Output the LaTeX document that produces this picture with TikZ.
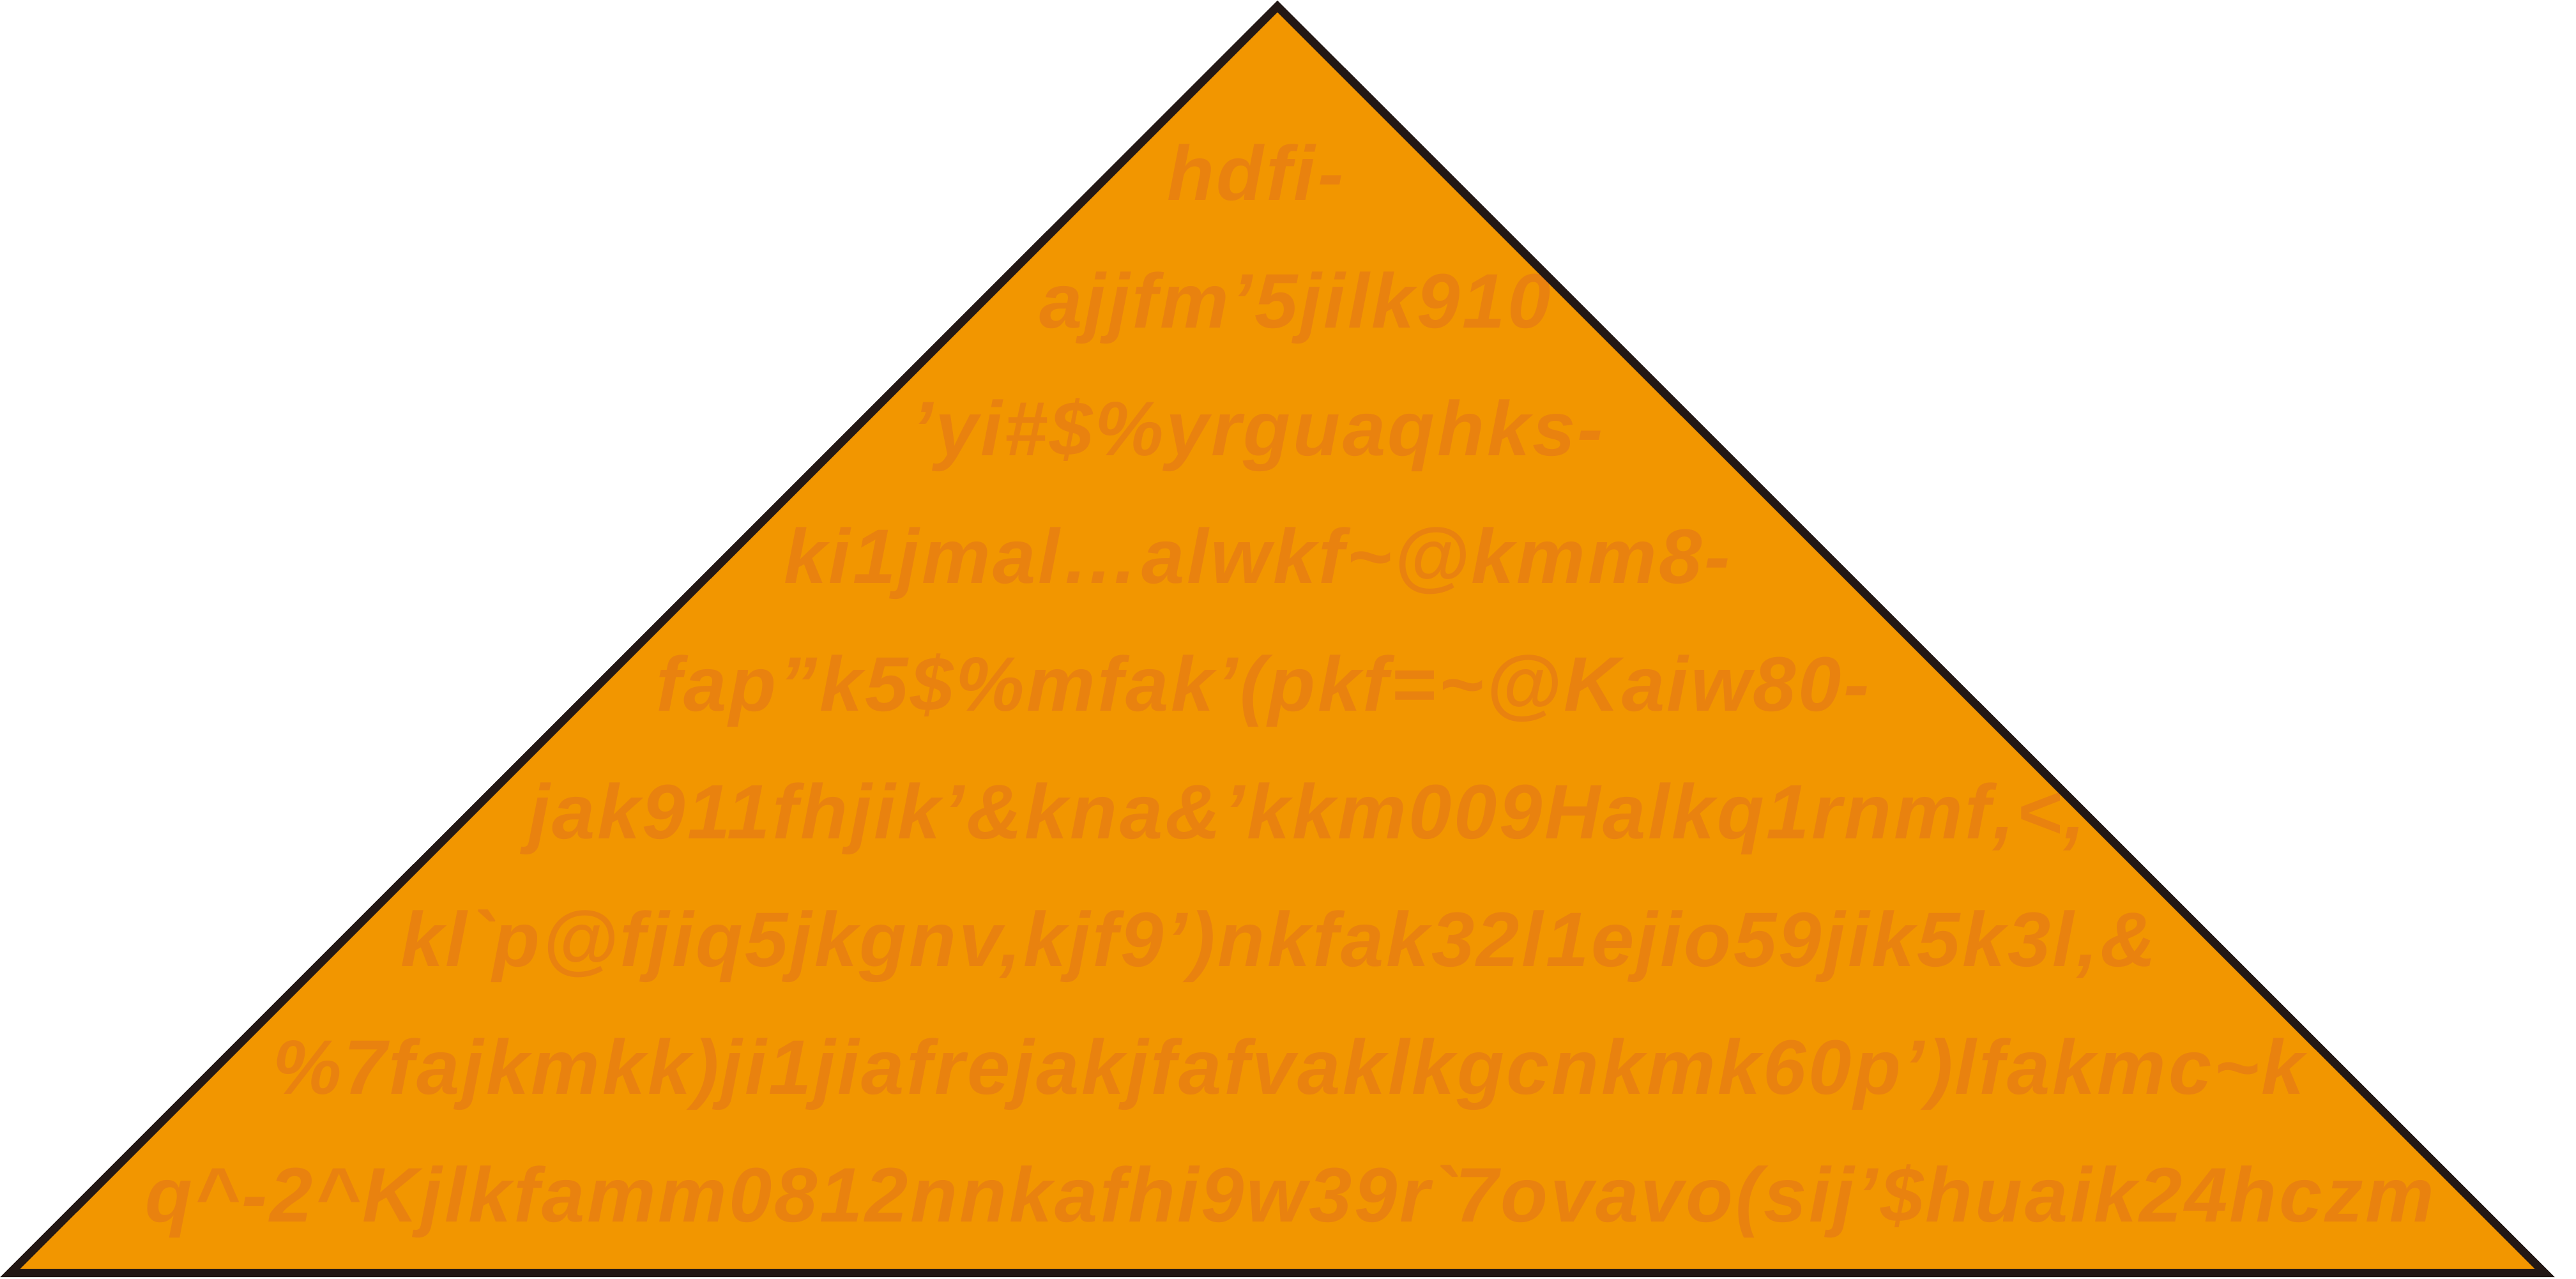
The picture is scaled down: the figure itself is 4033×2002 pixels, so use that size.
\documentclass[tikz,border=0pt]{standalone}
\usepackage{fontspec}
\newfontfamily\pyrfont{Liberation Sans}[Ligatures=TeXOff,LetterSpace=3]
\definecolor{pyrfill}{RGB}{242,150,0}
\definecolor{pyrline}{RGB}{35,24,21}
\definecolor{pyrtext}{RGB}{215,85,50}
\tikzset{
  pyrline/.style={draw=pyrline,line width=3.25pt,line join=miter,fill=pyrfill},
  pyrlabel/.style={anchor=base west,inner sep=0pt,outer sep=0pt,text=pyrtext,text opacity=0.3,
    font=\pyrfont\bfseries\itshape\fontsize{30.25pt}{50pt}\selectfont}
}
\begin{document}
\begin{tikzpicture}[x=0.25pt,y=-0.25pt]
\useasboundingbox (0,0) rectangle (4033,2002);
\coordinate (bl) at (16,1993.5);
\coordinate (br) at (3984,1993.5);
\coordinate (ap) at (2000,10);
\fill[pyrfill] (bl) -- (br) -- (ap) -- cycle;
\node[pyrlabel] (l1) at (1827,313) {hdfi-};
\node[pyrlabel] (l2) at (1627,513) {ajjfm’5jilk910};
\node[pyrlabel] (l3) at (1427,713) {’yi\#\$\%yrguaqhks-};
\node[pyrlabel] (l4) at (1227,913) {ki1jmal…alwkf\textasciitilde @kmm8-};
\node[pyrlabel] (l5) at (1027,1113) {fap”k5\$\%mfak’(pkf=\textasciitilde @Kaiw80-};
\node[pyrlabel] (l6) at (827,1313) {jak911fhjik’\&kna\&’kkm009Halkq1rnmf,<,};
\node[pyrlabel] (l7) at (627,1513) {kl\textasciigrave p@fjiq5jkgnv,kjf9’)nkfak32l1ejio59jik5k3l,\&};
\node[pyrlabel] (l8) at (427,1713) {\%7fajkmkk)ji1jiafrejakjfafvaklkgcnkmk60p’)lfakmc\textasciitilde k};
\node[pyrlabel] (l9) at (227,1913) {q\textasciicircum -2\textasciicircum Kjlkfamm0812nnkafhi9w39r\textasciigrave 7ovavo(sij’\$huaik24hczm};
\draw[pyrline,fill=none] (bl) -- (br) -- (ap) -- cycle;
\end{tikzpicture}
\end{document}
